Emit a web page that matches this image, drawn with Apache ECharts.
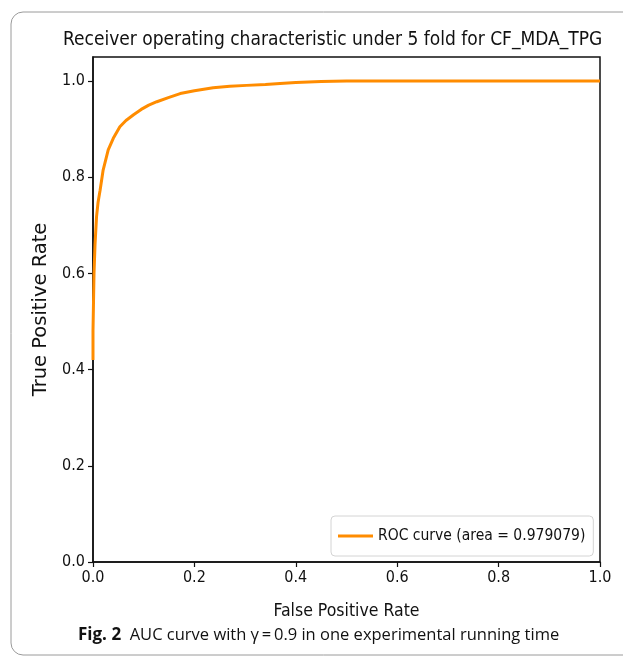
<!DOCTYPE html>
<html>
<head>
<meta charset="utf-8">
<script src="https://cdn.jsdelivr.net/npm/echarts@6/dist/echarts.min.js"></script>
<style>html,body{margin:0;padding:0;background:#fff}#c{width:623px;height:658px}</style>
</head>
<body>
<div id="c"></div>
<script>
// Data (mean ROC curve)
var fpr = [0.000, 0.000, 0.001, 0.002, 0.004, 0.007, 0.010, 0.014, 0.020, 0.030, 0.040, 0.053, 0.065, 0.080, 0.095, 0.110, 0.126, 0.150, 0.172, 0.200, 0.237, 0.270, 0.303, 0.340, 0.369, 0.400, 0.450, 0.500, 0.600, 0.700, 0.800, 0.900, 1.000];
var tpr = [0.420, 0.480, 0.540, 0.600, 0.660, 0.718, 0.748, 0.773, 0.815, 0.857, 0.881, 0.905, 0.918, 0.930, 0.941, 0.950, 0.957, 0.966, 0.974, 0.980, 0.986, 0.989, 0.991, 0.993, 0.995, 0.997, 0.999, 1.000, 1.000, 1.000, 1.000, 1.000, 1.000];
var xTicks = [0.0, 0.2, 0.4, 0.6, 0.8, 1.0];
var yTicks = [0.0, 0.2, 0.4, 0.6, 0.8, 1.0];
var titleText = 'Receiver operating characteristic under 5 fold for CF_MDA_TPG';
var seriesName = 'ROC curve (area = 0.979079)';
var xName = 'False Positive Rate';
var yName = 'True Positive Rate';

var points = fpr.map(function (v, i) { return [v, tpr[i]]; });
var cond = '"DejaVu Sans Condensed", "DejaVu Sans", sans-serif';

var chart = echarts.init(document.getElementById('c'), null, {renderer: 'canvas'});
chart.setOption({
  animation: false,
  backgroundColor: '#fff',
  title: {
    text: titleText,
    left: 58, top: 26,
    textStyle: {fontFamily: cond, fontSize: 19, fontWeight: 'normal', color: '#111'}
  },
  legend: {
    data: [{name: seriesName, icon: 'rect'}],
    left: 331, top: 516,
    orient: 'horizontal',
    itemWidth: 35, itemHeight: 3, itemGap: 10,
    padding: [12, 8, 12, 7],
    backgroundColor: '#fff',
    borderColor: '#d4d4d4', borderWidth: 1, borderRadius: 4,
    textStyle: {fontFamily: cond, fontSize: 15.5, color: '#111'}
  },
  graphic: [
    {type: 'rect', shape: {x: 11, y: 12, width: 700, height: 643, r: 12}, style: {fill: 'none', stroke: '#9a9a9a', lineWidth: 1}, z: -1},
    {type: 'text', left: 78, top: 627, style: {
      text: '{b|Fig. 2}  AUC curve with γ\u2009=\u20090.9 in one experimental running time',
      rich: {b: {fontFamily: '"Open Sans", sans-serif', fontWeight: 'bold', fontSize: 17, fill: '#111'}},
      font: '16.5px "Open Sans", sans-serif', fill: '#111'
    }}
  ],
  grid: {left: 93, right: 23, top: 57, bottom: 96, show: true, borderColor: '#111', borderWidth: 1.5, backgroundColor: 'transparent'},
  xAxis: {
    type: 'value', min: 0, max: 1, interval: 0.2,
    name: xName, nameLocation: 'middle', nameGap: 40,
    nameTextStyle: {fontFamily: cond, fontSize: 17.5, color: '#111'},
    axisLine: {show: true, lineStyle: {color: '#111', width: 1.5}},
    axisTick: {show: true, length: 5, lineStyle: {color: '#111', width: 1.2}, customValues: xTicks},
    axisLabel: {customValues: xTicks, margin: 8, fontFamily: cond, fontSize: 16, color: '#111', formatter: function (v) { return v.toFixed(1); }},
    splitLine: {show: false}
  },
  yAxis: {
    type: 'value', min: 0, max: 1.05,
    name: yName, nameLocation: 'middle', nameGap: 40,
    nameTextStyle: {fontFamily: '"DejaVu Sans", sans-serif', fontSize: 19.5, color: '#111'},
    axisLine: {show: true, lineStyle: {color: '#111', width: 1.5}},
    axisTick: {show: true, length: 5, lineStyle: {color: '#111', width: 1.2}, customValues: yTicks},
    axisLabel: {customValues: yTicks, margin: 8, fontFamily: cond, fontSize: 16, color: '#111', formatter: function (v) { return v.toFixed(1); }},
    splitLine: {show: false}
  },
  series: [{
    name: seriesName,
    type: 'line',
    data: points,
    showSymbol: false,
    symbol: 'none',
    smooth: false,
    color: '#ff8c00',
    lineStyle: {color: '#ff8c00', width: 3}
  }]
});
</script>
</body>
</html>
